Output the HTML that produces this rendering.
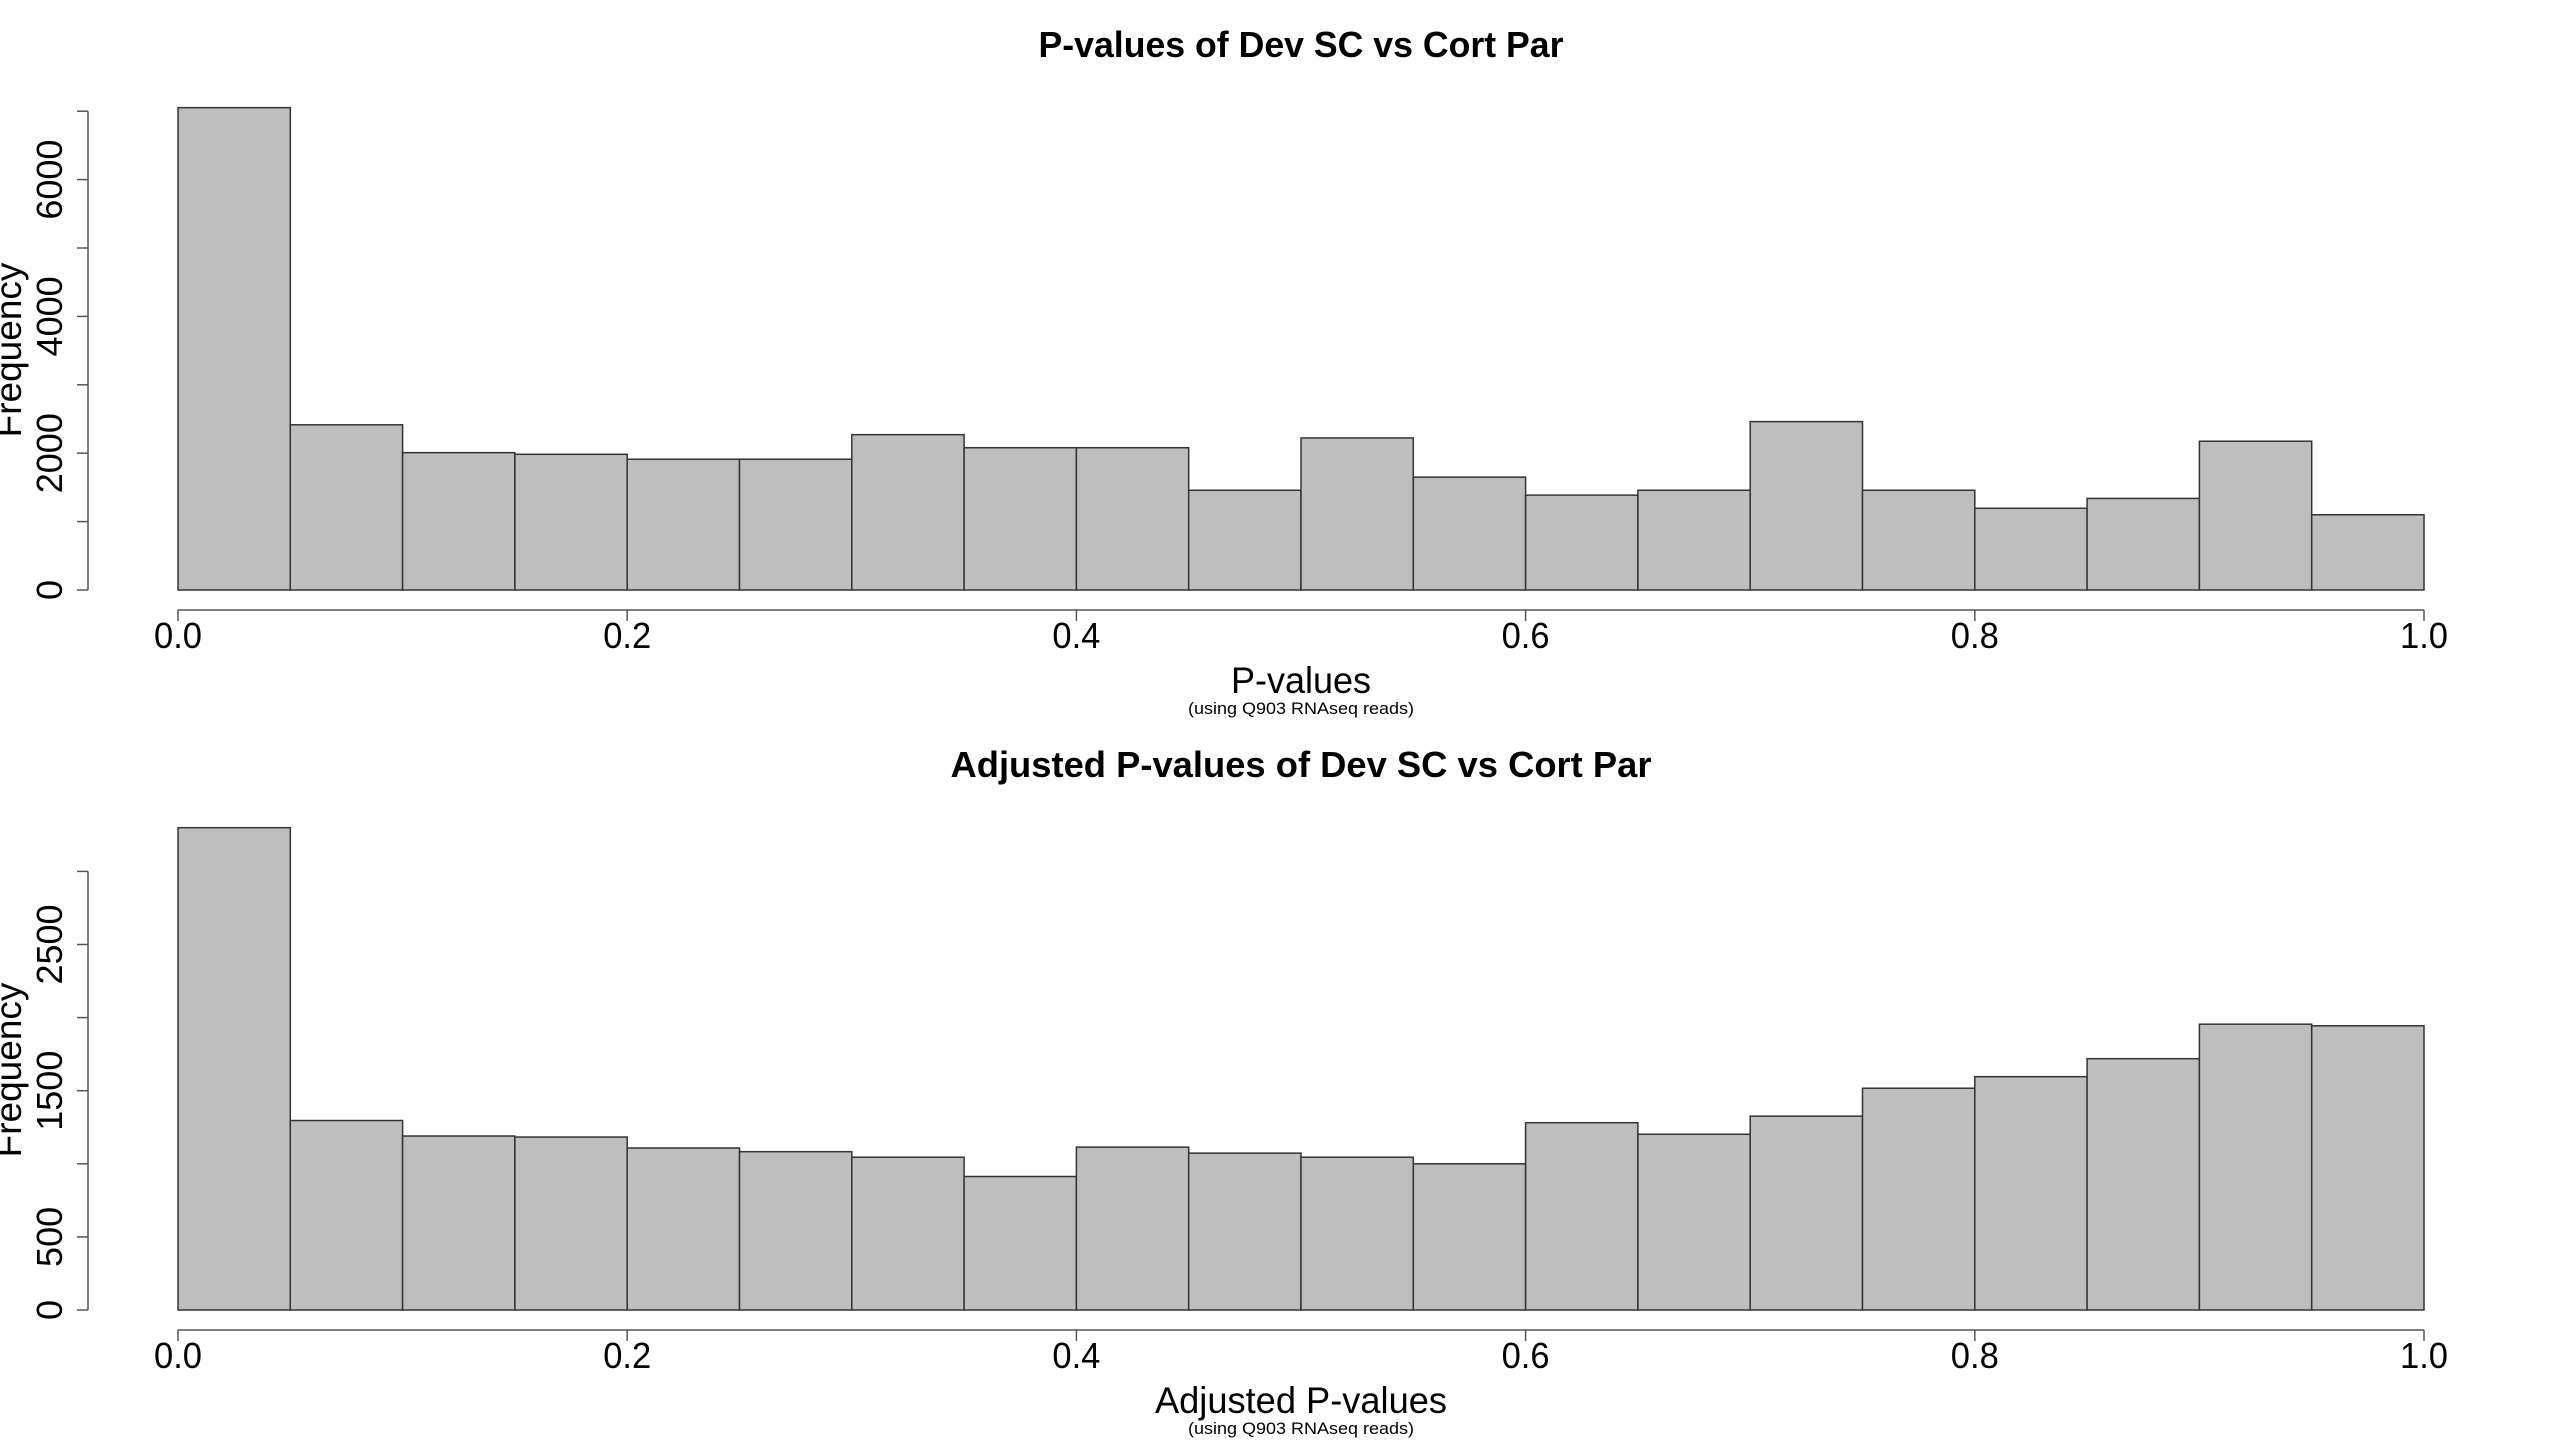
<!DOCTYPE html>
<html><head><meta charset="utf-8"><style>
html,body{margin:0;padding:0;background:#fff;width:2560px;height:1440px;overflow:hidden}
svg{display:block;font-family:"Liberation Sans",sans-serif}
</style></head><body>
<svg id="chart" width="2560" height="1440" viewBox="0 0 2560 1440" xmlns="http://www.w3.org/2000/svg"></svg>
<script>
const binEdges = [0,0.05,0.1,0.15,0.2,0.25,0.3,0.35,0.4,0.45,0.5,0.55,0.6,0.65,0.7,0.75,0.8,0.85,0.9,0.95,1.0];
const pvalCounts = [7052,2415,2008,1984,1912,1912,2271,2080,2080,1458,2223,1650,1387,1458,2462,1458,1195,1339,2175,1100];
const adjCounts = [3299,1296,1190,1183,1108,1083,1045,913,1114,1073,1045,1000,1281,1202,1326,1517,1596,1719,1955,1944];
const xTicks = [0,0.2,0.4,0.6,0.8,1.0];
const xTickLabels = ["0.0","0.2","0.4","0.6","0.8","1.0"];
const pvalYTicks = [0,1000,2000,3000,4000,5000,6000,7000];
const pvalYLabels = ["0","","2000","","4000","","6000",""];
const adjYTicks = [0,500,1000,1500,2000,2500,3000];
const adjYLabels = ["0","500","","1500","","2500",""];

const NS="http://www.w3.org/2000/svg";
const svg=document.getElementById('chart');
function mk(tag,attrs,parent){const e=document.createElementNS(NS,tag);for(const k in attrs)e.setAttribute(k,attrs[k]);parent.appendChild(e);return e;}

function panel(off,counts,yTicks,yLabels,pxPerUnit,title,titleLen,xlab,xlabLen,prefix){
  const g=mk('g',{transform:'translate(0,'+off+')'},svg);
  
  
  const x0=178,x1=2424,y0=590,cx=(x0+x1)/2;
  const xs=v=>x0+(x1-x0)*v;
  const ys=v=>y0-v*pxPerUnit;
  const t=mk('text',{x:cx,y:57,'text-anchor':'middle','font-size':36,'font-weight':'bold',textLength:titleLen,lengthAdjust:'spacingAndGlyphs'},g);
  t.textContent=title;
  
  
  for(let i=0;i<counts.length;i++){
    const r=mk('rect',{x:xs(binEdges[i]),y:ys(counts[i]),width:xs(binEdges[i+1])-xs(binEdges[i]),height:counts[i]*pxPerUnit,fill:'#bebebe',stroke:'#333','stroke-width':1.5},g);
    
    
  }
  const xa=mk('g',{},g);
  
  
  mk('line',{x1:xs(0),x2:xs(1),y1:610,y2:610,stroke:'#555','stroke-width':1.5},xa);
  xTicks.forEach((v,i)=>{
    mk('line',{x1:xs(v),x2:xs(v),y1:610,y2:621,stroke:'#555','stroke-width':1.5},xa);
    const tl=mk('text',{x:xs(v),y:648,'text-anchor':'middle','font-size':36,textLength:48,lengthAdjust:'spacingAndGlyphs'},xa);
    tl.textContent=xTickLabels[i];
  });
  const ya=mk('g',{},g);
  
  
  mk('line',{x1:88,x2:88,y1:ys(yTicks[0]),y2:ys(yTicks[yTicks.length-1]),stroke:'#555','stroke-width':1.5},ya);
  yTicks.forEach((v,i)=>{
    mk('line',{x1:77,x2:88,y1:ys(v),y2:ys(v),stroke:'#555','stroke-width':1.5},ya);
    if(yLabels[i]){
      const tl=mk('text',{x:62,y:ys(v),'text-anchor':'middle','font-size':36,transform:'rotate(-90 62 '+ys(v)+')'},ya);
      tl.textContent=yLabels[i];
    }
  });
  const yl=mk('text',{x:21,y:350,'text-anchor':'middle','font-size':37,transform:'rotate(-90 21 350)'},g);
  yl.textContent='Frequency';
  
  
  const xl=mk('text',{x:cx,y:693,'text-anchor':'middle','font-size':37,textLength:xlabLen,lengthAdjust:'spacingAndGlyphs'},g);
  xl.textContent=xlab;
  
  
  const st=mk('text',{x:cx,y:714,'text-anchor':'middle','font-size':17,textLength:226,lengthAdjust:'spacingAndGlyphs'},g);
  st.textContent='(using Q903 RNAseq reads)';
  
  
}
panel(0,pvalCounts,pvalYTicks,pvalYLabels,68.4/1000,'P-values of Dev SC vs Cort Par',525,'P-values',140,'pvalue');
panel(720,adjCounts,adjYTicks,adjYLabels,73.1/500,'Adjusted P-values of Dev SC vs Cort Par',701,'Adjusted P-values',292,'adjusted-pvalue');
</script>
</body></html>
